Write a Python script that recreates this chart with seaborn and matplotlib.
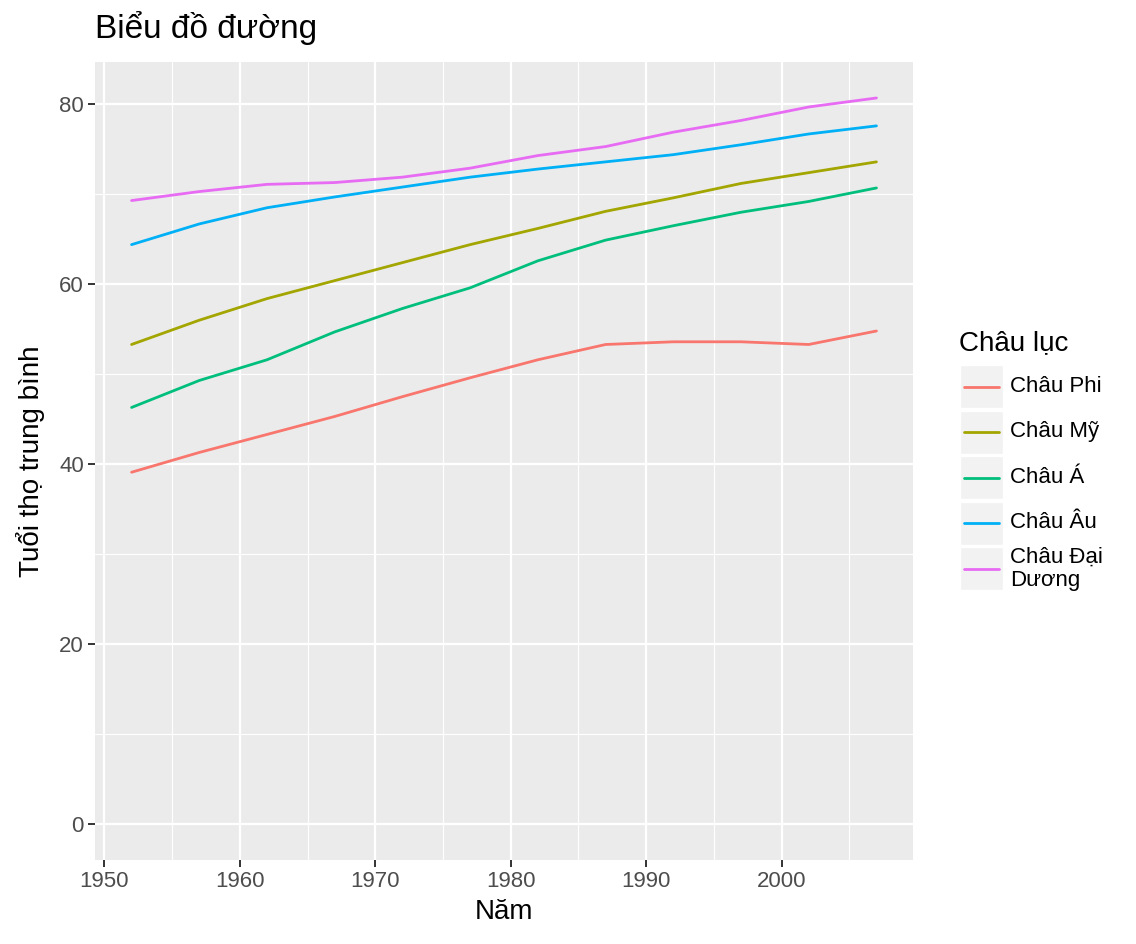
import pandas as pd
import seaborn as sns
import matplotlib.pyplot as plt
from matplotlib.patches import Rectangle

# Dữ liệu: tuổi thọ trung bình theo châu lục
nam = [1952, 1957, 1962, 1967, 1972, 1977, 1982, 1987, 1992, 1997, 2002, 2007]
chau_phi = [39.1, 41.3, 43.3, 45.3, 47.5, 49.6, 51.6, 53.3, 53.6, 53.6, 53.3, 54.8]
chau_my = [53.3, 56.0, 58.4, 60.4, 62.4, 64.4, 66.2, 68.1, 69.6, 71.2, 72.4, 73.6]
chau_a = [46.3, 49.3, 51.6, 54.7, 57.3, 59.6, 62.6, 64.9, 66.5, 68.0, 69.2, 70.7]
chau_au = [64.4, 66.7, 68.5, 69.7, 70.8, 71.9, 72.8, 73.6, 74.4, 75.5, 76.7, 77.6]
chau_dd = [69.3, 70.3, 71.1, 71.3, 71.9, 72.9, 74.3, 75.3, 76.9, 78.2, 79.7, 80.7]

chau_luc = ['Châu Phi', 'Châu Mỹ', 'Châu Á', 'Châu Âu', 'Châu Đại Dương']
nhan_chu_giai = ['Châu Phi', 'Châu Mỹ', 'Châu Á', 'Châu Âu', 'Châu Đại\nDương']
mau = ['#F8766D', '#A3A500', '#00BF7D', '#00B0F6', '#E76BF3']

datos = pd.concat([
    pd.DataFrame({'nam': nam, 'tuoi_tho': v, 'chau_luc': c})
    for c, v in zip(chau_luc, [chau_phi, chau_my, chau_a, chau_au, chau_dd])
])

sns.set_theme(style='darkgrid')
plt.rcParams['font.family'] = ['Liberation Sans', 'DejaVu Sans']
plt.rcParams['text.color'] = 'black'

W, H = 1136, 944
fig = plt.figure(figsize=(W / 100, H / 100), dpi=100)
ax = fig.add_axes([95 / W, 1 - 860 / H, (913 - 95) / W, (860 - 62) / H])
ax.set_facecolor('#EBEBEB')

sns.lineplot(data=datos, x='nam', y='tuoi_tho', hue='chau_luc',
             hue_order=chau_luc, palette=mau, linewidth=2.0,
             legend=False, ax=ax)

ax.set_xlim(1949.3, 2009.7)
ax.set_ylim(-4.0, 84.7)
ax.set_xticks([1950, 1960, 1970, 1980, 1990, 2000])
ax.set_yticks([0, 20, 40, 60, 80])
ax.set_xticks([1955, 1965, 1975, 1985, 1995, 2005], minor=True)
ax.set_yticks([10, 30, 50, 70], minor=True)
ax.grid(which='major', color='white', linewidth=1.6)
ax.grid(which='minor', color='white', linewidth=0.8)
for s in ax.spines.values():
    s.set_visible(False)
ax.tick_params(which='major', length=5, width=1.4, color='#333333',
               labelsize=16, labelcolor='#4D4D4D', pad=3,
               bottom=True, left=True)
ax.tick_params(which='minor', length=0)

ax.set_xlabel('Năm', fontsize=20, color='black', labelpad=5)
ax.set_ylabel('Tuổi thọ trung bình', fontsize=20, color='black', labelpad=10)
fig.text(95 / W, 1 - 28 / H, 'Biểu đồ đường', fontsize=24, va='center',
         ha='left', color='black')

# Chú giải kiểu ggplot
lg = fig.add_axes([955 / W, 1 - 600 / H, 181 / W, 280 / H])
lg.set_xlim(0, 181)
lg.set_ylim(280, 0)
lg.axis('off')
lg.text(4, 23, 'Châu lục', fontsize=20, va='center', ha='left', color='black')
for i, (nhan, c) in enumerate(zip(nhan_chu_giai, mau)):
    y0 = 45 + i * 45.5
    lg.add_patch(Rectangle((5, y0), 43, 43, facecolor='#F2F2F2', edgecolor='white', lw=1))
    lg.plot([9, 44], [y0 + 21.5, y0 + 21.5], color=c, lw=2.0)
    lg.text(55, y0 + 21.5, nhan, fontsize=16, va='center', ha='left',
            linespacing=1.15, color='black')

fig.savefig('out.png', dpi=100, facecolor='white')
